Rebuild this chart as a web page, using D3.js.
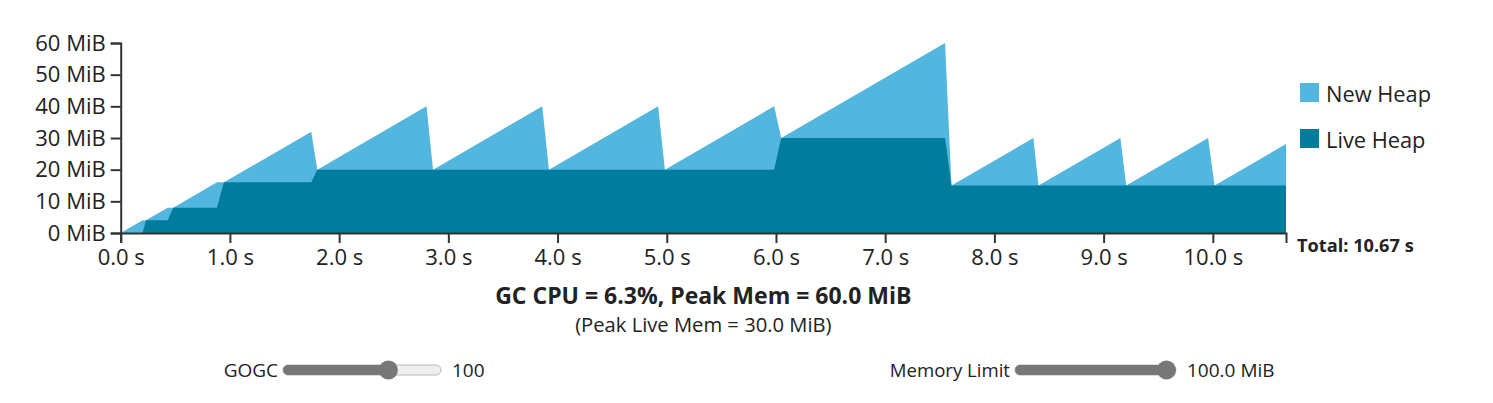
<!DOCTYPE html>
<html><head><meta charset="utf-8">
<script src="https://cdn.jsdelivr.net/npm/d3@7"></script>
<style>
html,body{margin:0;padding:0;background:#fff;}
svg{display:block;font-family:"Open Sans",sans-serif;}
</style></head><body>
<svg id="chart" width="1493" height="403"></svg>
<script>
// ---- data ----
const times     = [0, 0.2, 0.231, 0.431, 0.481, 0.881, 0.945, 1.745, 1.80, 2.80, 2.86, 3.86, 3.921, 4.921, 4.983, 5.983, 6.048, 7.548, 7.607, 8.357, 8.404, 9.154, 9.207, 9.957, 10.016, 10.67];
const liveHeap  = [0, 0, 4, 4, 8, 8, 16, 16, 20, 20, 20, 20, 20, 20, 20, 20, 30, 30, 15, 15, 15, 15, 15, 15, 15, 15];
const totalHeap = [0, 4, 4, 8, 8, 16, 16, 32, 20, 40, 20, 40, 20, 40, 20, 40, 30, 60, 15, 30, 15, 30, 15, 30, 15, 28.1];
const yTicks = [0, 10, 20, 30, 40, 50, 60];
const xTicks = [0, 1, 2, 3, 4, 5, 6, 7, 8, 9, 10];
const totalTime = 10.67;
const seriesNames = ["New Heap", "Live Heap"];
const titleText = "GC CPU = 6.3%, Peak Mem = 60.0 MiB";
const subtitleText = "(Peak Live Mem = 30.0 MiB)";
const gogcValue = 100;
const memLimitValue = 100.0;

// ---- styles / layout ----
const colors = {"New Heap": "#52b6df", "Live Heap": "#007d9c"};
const textColor = "#222";
const svg = d3.select("#chart");

const x = d3.scaleLinear().domain([0, totalTime]).range([120.7, 1286]);
const y = d3.scaleLinear().domain([0, 60]).range([233, 43]);

const pts = times.map((t, i) => ({t, live: liveHeap[i], total: totalHeap[i]}));

svg.append("path").datum(pts)
  .attr("fill", colors["New Heap"])
  .attr("d", d3.area().x(d => x(d.t)).y0(y(0)).y1(d => y(d.total)));
svg.append("path").datum(pts)
  .attr("fill", colors["Live Heap"])
  .attr("d", d3.area().x(d => x(d.t)).y0(y(0)).y1(d => y(d.live)));

// axes
const xAxis = d3.axisBottom(x).tickValues(xTicks).tickFormat(d => d.toFixed(1) + " s")
  .tickSize(10).tickPadding(6);
const yAxis = d3.axisLeft(y).tickValues(yTicks).tickFormat(d => d + " MiB")
  .tickSize(10).tickPadding(5);

const gx = svg.append("g").attr("transform", `translate(0,${y(0)})`).call(xAxis);
const gy = svg.append("g").attr("transform", `translate(${x(0)},0)`).call(yAxis);
[gx, gy].forEach(g => {
  g.selectAll("path.domain").attr("stroke", "#333").attr("stroke-width", 2);
  g.selectAll(".tick line").attr("stroke", "#333").attr("stroke-width", 2);
  g.selectAll(".tick text").attr("fill", textColor).style("font-family", '"Open Sans",sans-serif').style("font-size", "22px");
});

svg.append("text").attr("x", 1297).attr("y", 252)
  .attr("fill", textColor).style("font-weight", "bold").style("font-size", "18.2px")
  .text("Total: " + totalTime.toFixed(2) + " s");

// legend
seriesNames.forEach((n, i) => {
  const yy = 83 + i * 46;
  svg.append("rect").attr("x", 1300).attr("y", yy).attr("width", 19).attr("height", 19).attr("fill", colors[n]);
  svg.append("text").attr("x", 1326).attr("y", yy + 18.5).attr("fill", textColor)
    .style("font-size", "21.8px").text(n);
});

// titles
const cx = (x.range()[0] + x.range()[1]) / 2;
svg.append("text").attr("x", cx).attr("y", 303.5).attr("text-anchor", "middle")
  .attr("fill", textColor).style("font-weight", "bold").style("font-size", "23px").text(titleText);
svg.append("text").attr("x", cx).attr("y", 332).attr("text-anchor", "middle")
  .attr("fill", textColor).style("font-size", "20.2px").text(subtitleText);

// sliders
function slider(label, x0, x1, frac, valueText, fs) {
  const cy = 370, r = 9.5;
  const tx = x0 + r + frac * (x1 - x0 - 2 * r);
  svg.append("text").attr("x", x0 - 5).attr("y", cy + 6.5).attr("text-anchor", "end")
    .attr("fill", textColor).style("font-size", fs).text(label);
  svg.append("rect").attr("x", x0).attr("y", cy - 5).attr("width", x1 - x0).attr("height", 10)
    .attr("rx", 5).attr("fill", "#efefef").attr("stroke", "#b8b8b8").attr("stroke-width", 1);
  svg.append("rect").attr("x", x0).attr("y", cy - 5).attr("width", tx - x0).attr("height", 10)
    .attr("rx", 5).attr("fill", "#777");
  svg.append("circle").attr("cx", tx).attr("cy", cy).attr("r", r).attr("fill", "#777");
  svg.append("text").attr("x", x1 + 11).attr("y", cy + 6.5)
    .attr("fill", textColor).style("font-size", "19px").text(valueText);
}
const gogcScale = d3.scaleLog().domain([1, 1000]).range([0, 1]);
slider("GOGC", 283, 441, gogcScale(gogcValue) * 1.035, String(gogcValue), "19px");
slider("Memory Limit", 1015, 1176, 1, memLimitValue.toFixed(1) + " MiB", "18.6px");
</script>
</body></html>
